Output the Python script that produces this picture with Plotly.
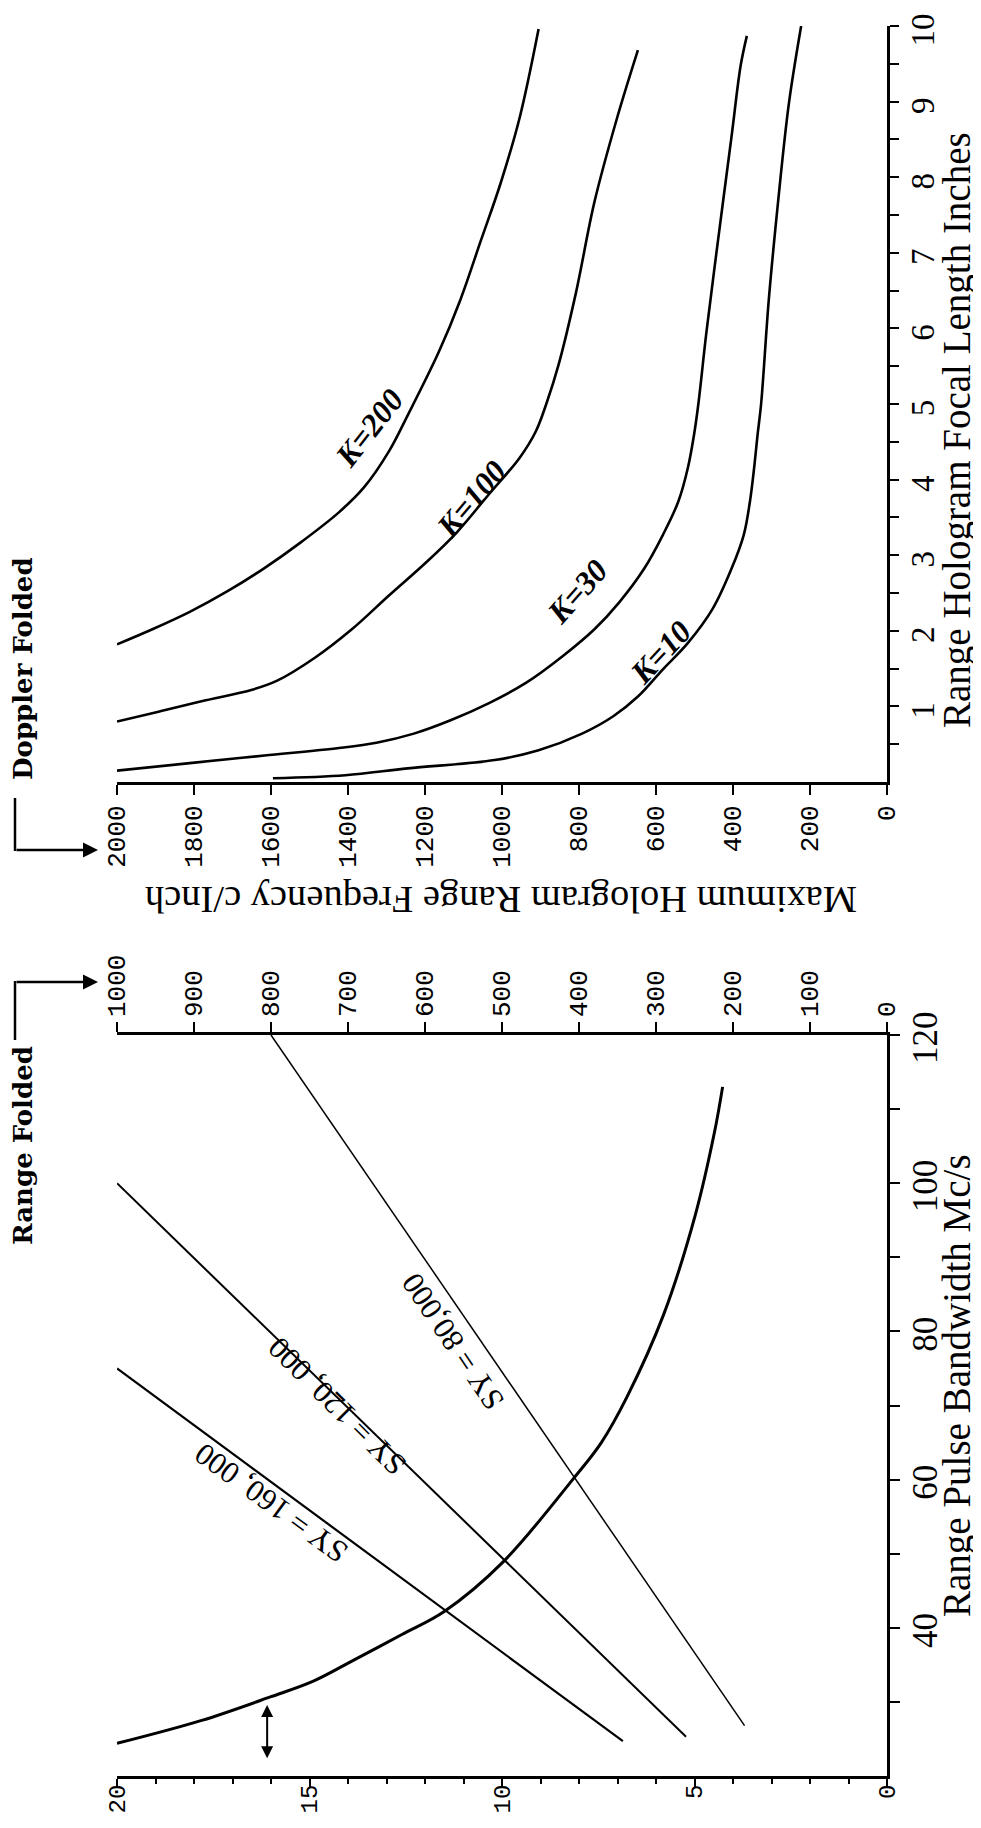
import plotly.graph_objects as go

# ---------------- data: right panel (Range Hologram focal length vs max frequency)
k200_freq = [2000, 1908, 1811, 1714, 1617, 1520, 1423, 1358, 1293, 1245, 1164, 1108, 1055, 1003, 954, 905]
k200_focal = [1.82, 2.02, 2.25, 2.52, 2.83, 3.18, 3.57, 3.9, 4.38, 4.85, 5.69, 6.38, 7.16, 7.93, 8.79, 9.96]

k100_freq = [2000, 1892, 1778, 1649, 1584, 1487, 1390, 1293, 1196, 1116, 1035, 954, 912, 885, 853, 808, 760, 703, 647]
k100_focal = [0.8, 0.93, 1.07, 1.22, 1.34, 1.64, 2.02, 2.47, 2.91, 3.31, 3.8, 4.29, 4.64, 5.0, 5.52, 6.47, 7.67, 8.75, 9.68]

k30_freq = [2000, 1811, 1617, 1423, 1326, 1229, 1132, 1035, 938, 841, 760, 695, 631, 582, 542, 517, 501, 490, 469, 437, 404, 380, 364]
k30_focal = [0.15, 0.25, 0.35, 0.45, 0.52, 0.64, 0.82, 1.04, 1.31, 1.67, 2.02, 2.38, 2.82, 3.27, 3.71, 4.16, 4.6, 5.0, 5.95, 7.24, 8.53, 9.48, 9.87]

k10_freq = [1595, 1407, 1245, 1019, 905, 792, 711, 647, 582, 517, 453, 404, 372, 356, 345, 336, 327, 307, 283, 255, 223]
k10_focal = [0.05, 0.09, 0.18, 0.29, 0.42, 0.64, 0.87, 1.13, 1.49, 1.84, 2.29, 2.82, 3.27, 3.71, 4.16, 4.6, 5.0, 6.38, 7.67, 8.97, 10.0]

k_labels = ["K=200", "K=100", "K=30", "K=10"]
k_label_freq = [1345, 1080, 803, 588]
k_label_focal = [4.68, 3.74, 2.52, 1.72]
k_label_angle = [-52, -50, -48, -47]

# ---------------- data: left panel (range pulse bandwidth)
curve_value = [20.0, 17.8, 16.0, 14.9, 13.9, 12.6, 11.5, 9.97, 8.15, 7.42, 6.75, 5.8, 4.98, 4.48, 4.27]
curve_bw = [24.4, 27.5, 30.7, 32.8, 35.5, 39.1, 42.2, 48.9, 60.1, 65.0, 71.2, 82.3, 95.7, 106.9, 113.0]

sy160_v = [343, 1000]
sy160_bw = [24.7, 75.0]
sy120_v = [261, 1000]
sy120_bw = [25.3, 100.0]
sy80_v = [185, 800]
sy80_bw = [26.8, 120.0]

sy_labels = ["SY = 160, 000", "SY = 120, 000", "SY = 80,000"]
sy_label_value = [16.0, 14.3, 11.27]
sy_label_bw = [56.8, 69.9, 78.6]
sy_label_angle = [-144, -135, -124]

value_ticks = [0, 5, 10, 15, 20]
bw_ticks = [40, 60, 80, 100, 120]
folded_ticks = list(range(0, 1001, 100))
freq_ticks = list(range(0, 2001, 200))
focal_ticks = list(range(1, 11))

SERIF = "Liberation Serif"
MONO = "Liberation Mono"
BOLDSERIF = "DejaVu Serif"

fig = go.Figure()

# right panel curves
for fx, fy in [(k200_freq, k200_focal), (k100_freq, k100_focal),
               (k30_freq, k30_focal), (k10_freq, k10_focal)]:
    fig.add_trace(go.Scatter(x=fx, y=fy, xaxis="x2", yaxis="y2", mode="lines",
                             line=dict(color="black", width=2.6, shape="spline", smoothing=1.0),
                             hoverinfo="skip"))

# left panel curve
fig.add_trace(go.Scatter(x=curve_value, y=curve_bw, xaxis="x", yaxis="y", mode="lines",
                         line=dict(color="black", width=3, shape="spline", smoothing=1.0),
                         hoverinfo="skip"))
# SY lines on folded scale
for vx, by, w in [(sy160_v, sy160_bw, 2.2), (sy120_v, sy120_bw, 2.0), (sy80_v, sy80_bw, 1.5)]:
    fig.add_trace(go.Scatter(x=vx, y=by, xaxis="x3", yaxis="y", mode="lines",
                             line=dict(color="black", width=w), hoverinfo="skip"))

# page geometry (page px = figure px + 8 px body margin)
W, H = 973, 1812
TOP, BOTTOM = 26, 1776            # page y of plot-area top / bottom
LEFT, RIGHT = 117, 887            # page x of plot-area left / right
ml = LEFT - 8
mr = W - (RIGHT - 8)
mt = TOP - 8
mb = H - (BOTTOM - 8)
PH = BOTTOM - TOP
PW = RIGHT - LEFT


def py(full_y):
    return (BOTTOM - full_y) / float(PH)


def px(full_x):
    return (full_x - LEFT) / float(PW)


tick_common = dict(showgrid=False, zeroline=False, showline=True, linecolor="black",
                   tickcolor="black", ticks="outside", automargin=False,
                   ticklabeloverflow="allow")

fig.update_layout(
    template="none",
    width=W, height=H,
    margin=dict(l=ml, r=mr, t=mt, b=mb, autoexpand=False),
    paper_bgcolor="white", plot_bgcolor="white",
    showlegend=False,
    xaxis=dict(domain=[0, 1], range=[20, 0], anchor="y", side="bottom",
               tickvals=value_ticks, ticklen=8, tickwidth=2, tickangle=-90,
               ticklabelstandoff=-12,
               tickfont=dict(family=MONO, size=24, color="black"), linewidth=3,
               minor=dict(tickvals=list(range(0, 21)), ticks="outside", ticklen=5,
                          tickwidth=2, tickcolor="black"),
               **tick_common),
    yaxis=dict(domain=[0, py(1035)], range=[20, 120], anchor="x", side="right",
               tickvals=bw_ticks, ticklen=10, tickwidth=2, tickangle=-90,
               ticklabelstandoff=-5, ticklabelshift=8,
               tickfont=dict(family=SERIF, size=35, color="black"), linewidth=3,
               minor=dict(tickvals=[30, 50, 70, 90, 110], ticks="outside", ticklen=10,
                          tickwidth=2, tickcolor="black"),
               **tick_common),
    xaxis3=dict(overlaying="x", anchor="y", side="top", range=[1000, 0],
                tickvals=folded_ticks, ticklen=10, tickwidth=2, tickangle=-90,
                tickfont=dict(family=MONO, size=26, color="black"), linewidth=2.5,
                **tick_common),
    xaxis2=dict(domain=[0, 1], range=[2000, 0], anchor="y2", side="bottom",
                tickvals=freq_ticks, ticklen=10, tickwidth=2, tickangle=-90,
                tickfont=dict(family=MONO, size=26, color="black"), linewidth=3,
                **tick_common),
    yaxis2=dict(domain=[py(782), 1], range=[0, 10], anchor="x2", side="right",
                tickvals=focal_ticks, ticklen=9, tickwidth=2, tickangle=-90,
                ticklabelstandoff=-5, ticklabelshift=9,
                tickfont=dict(family=SERIF, size=33, color="black"), linewidth=3,
                minor=dict(tickvals=[i + 0.5 for i in range(10)], ticks="outside", ticklen=9,
                           tickwidth=2, tickcolor="black"),
                **tick_common),
)

ann = []
for t, fx, fy, a in zip(k_labels, k_label_freq, k_label_focal, k_label_angle):
    ann.append(dict(text="<b><i>" + t + "</i></b>", x=fx, y=fy, xref="x2", yref="y2",
                    xanchor="center", yanchor="middle",
                    showarrow=False, textangle=a,
                    font=dict(family=SERIF, size=32, color="black")))
for t, vx, by, a in zip(sy_labels, sy_label_value, sy_label_bw, sy_label_angle):
    ann.append(dict(text=t, x=vx, y=by, xref="x", yref="y", showarrow=False, textangle=a,
                    xanchor="center", yanchor="middle",
                    font=dict(family=SERIF, size=31, color="black")))

center = dict(xref="paper", yref="paper", showarrow=False, xanchor="center", yanchor="middle")
# titles
ann.append(dict(text="Range Hologram Focal Length Inches", x=px(957), y=py(430), textangle=-90,
                font=dict(family=SERIF, size=39, color="black"), **center))
ann.append(dict(text="Range Pulse Bandwidth Mc/s", x=px(957), y=py(1385), textangle=-90,
                font=dict(family=SERIF, size=39, color="black"), **center))
ann.append(dict(text="Maximum Hologram Range Frequency c/Inch", x=px(501), y=py(900), textangle=180,
                font=dict(family=SERIF, size=38.5, color="black"), **center))
ann.append(dict(text="<b>Doppler Folded</b>", x=px(23), y=py(669), textangle=-90,
                font=dict(family=BOLDSERIF, size=26, color="black"), **center))
ann.append(dict(text="<b>Range Folded</b>", x=px(23), y=py(1146), textangle=-90,
                font=dict(family=BOLDSERIF, size=26, color="black"), **center))
# folded arrows
for tip_y in (850, 982):
    ann.append(dict(text="", x=px(98), y=py(tip_y), xref="paper", yref="paper",
                    showarrow=True, ax=-83, ay=0, arrowhead=2, arrowsize=1.2,
                    arrowwidth=2.5, arrowcolor="black"))
# small double arrow in left panel
ann.append(dict(text="", x=16.1, y=22.4, xref="x", yref="y", ax=16.1, ay=29.8,
                axref="x", ayref="y", showarrow=True, arrowside="end+start",
                arrowhead=2, startarrowhead=2, arrowsize=1.2, startarrowsize=1.2,
                arrowwidth=2, arrowcolor="black"))
fig.update_layout(annotations=ann)

fig.update_layout(shapes=[
    dict(type="line", xref="paper", yref="paper", x0=px(15), x1=px(15), y0=py(798), y1=py(851),
         line=dict(color="black", width=2.5)),
    dict(type="line", xref="paper", yref="paper", x0=px(15), x1=px(15), y0=py(1040), y1=py(981),
         line=dict(color="black", width=2.5)),
])

fig.write_html("out.html")
